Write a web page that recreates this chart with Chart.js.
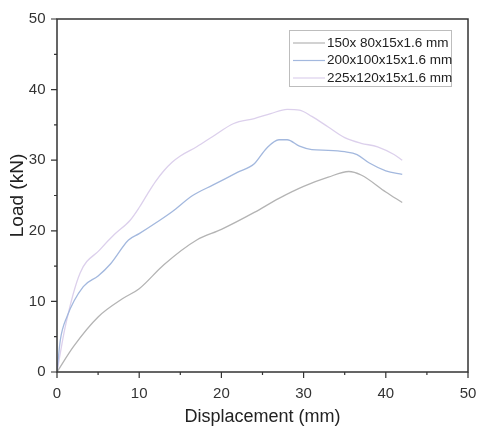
<!DOCTYPE html>
<html>
<head>
<meta charset="utf-8">
<script src="https://cdn.jsdelivr.net/npm/chart.js@4/dist/chart.umd.min.js"></script>
<style>
  body { margin: 0; background: #fff; }
  canvas { display: block; }
</style>
</head>
<body>
<canvas id="grafico" width="478" height="429"></canvas>
<script>
// ---- dados ----
const seriesLabels = ["150x 80x15x1.6 mm", "200x100x15x1.6 mm", "225x120x15x1.6 mm"];

const dispA = [0, 2, 5, 8, 10, 13, 17, 20, 24, 27, 30, 33, 35.5, 37, 40, 42];
const loadA = [0, 3.6, 7.8, 10.4, 11.8, 15.2, 18.7, 20.2, 22.6, 24.6, 26.3, 27.6, 28.4, 27.9, 25.5, 24.0];

const dispB = [0, 0.4, 1.2, 3.2, 5, 6.5, 8.7, 10, 12, 14, 16.5, 19, 22, 24, 25.5, 27, 28, 29.5, 31, 33, 35, 36.5, 38, 40, 42];
const loadB = [0, 4.5, 7.8, 12.1, 13.6, 15.3, 18.7, 19.6, 21.1, 22.7, 25.0, 26.5, 28.3, 29.5, 31.7, 32.9, 32.9, 32.0, 31.5, 31.4, 31.2, 30.8, 29.6, 28.5, 28.0];

const dispC = [0, 1, 2.8, 5.2, 7, 8.9, 10, 11, 12, 13, 14, 15, 17, 19, 21.5, 24, 26, 28, 29.5, 31, 33, 35, 37, 39, 41, 42];
const loadC = [0, 6.4, 14, 17.3, 19.5, 21.5, 23.3, 25.2, 27.0, 28.5, 29.7, 30.6, 31.9, 33.4, 35.2, 35.9, 36.6, 37.2, 37.1, 36.2, 34.7, 33.2, 32.4, 31.9, 30.8, 30.0];

const xTicks = [0, 10, 20, 30, 40, 50];
const yTicks = [0, 10, 20, 30, 40, 50];

const cores = ["#b4b4b4", "#a3b8de", "#dcd0ec"];

/* ============================
   MONTA PONTOS
============================ */

function pontos(xs, ys) {
    return xs.map((x, i) => ({ x: x, y: ys[i] }));
}

const fonte = "'Liberation Sans', Arial, sans-serif";

/* ============================
   MOLDURA + TICKS + LEGENDA
============================ */

const moldura = {
    id: "moldura",
    afterDraw(chart) {
        const { ctx, chartArea: a, scales } = chart;
        ctx.save();
        ctx.strokeStyle = "#333";
        ctx.lineWidth = 1.5;
        ctx.strokeRect(a.left, a.top, a.right - a.left, a.bottom - a.top);

        ctx.lineWidth = 1.2;
        ctx.beginPath();
        for (let v = 0; v <= 50; v += 5) {
            const len = v % 10 === 0 ? 6 : 3;
            const px = scales.x.getPixelForValue(v);
            ctx.moveTo(px, a.bottom);
            ctx.lineTo(px, a.bottom + len);
            const py = scales.y.getPixelForValue(v);
            ctx.moveTo(a.left, py);
            ctx.lineTo(a.left - len, py);
        }
        ctx.stroke();

        // legenda
        const lx = 289, ly = 30, lw = 162, lh = 56;
        ctx.fillStyle = "#fff";
        ctx.fillRect(lx, ly, lw, lh);
        ctx.strokeStyle = "#bdbdbd";
        ctx.lineWidth = 1;
        ctx.strokeRect(lx + 0.5, ly + 0.5, lw, lh);
        ctx.font = "13.5px " + fonte;
        ctx.textBaseline = "middle";
        ctx.fillStyle = "#222";
        chart.data.datasets.forEach((ds, i) => {
            const y = ly + 13 + i * 17.5;
            ctx.strokeStyle = ds.borderColor;
            ctx.lineWidth = 1.2;
            ctx.beginPath();
            ctx.moveTo(293, y);
            ctx.lineTo(325, y);
            ctx.stroke();
            ctx.fillText(ds.label, 327, y);
        });
        ctx.restore();
    }
};

/* ============================
   GRÁFICO
============================ */

const ctx = document.getElementById("grafico").getContext("2d");

new Chart(ctx, {
    type: "line",
    data: {
        datasets: [
            { label: seriesLabels[0], data: pontos(dispA, loadA), borderColor: cores[0] },
            { label: seriesLabels[1], data: pontos(dispB, loadB), borderColor: cores[1] },
            { label: seriesLabels[2], data: pontos(dispC, loadC), borderColor: cores[2] }
        ].map(ds => Object.assign(ds, {
            borderWidth: 1.3,
            pointRadius: 0,
            fill: false,
            cubicInterpolationMode: "monotone"
        }))
    },
    options: {
        responsive: false,
        animation: false,
        layout: { autoPadding: false, padding: { top: 19, right: 10, left: 0, bottom: 0 } },
        plugins: {
            legend: { display: false },
            tooltip: { enabled: false }
        },
        scales: {
            x: {
                type: "linear",
                min: 0,
                max: 50,
                afterFit: s => { s.height = 57; s.paddingLeft = 0; s.paddingRight = 0; },
                afterBuildTicks: s => { s.ticks = xTicks.map(v => ({ value: v })); },
                grid: { display: false, drawTicks: false },
                border: { display: false },
                ticks: { padding: 13, color: "#333", font: { family: fonte, size: 15 } },
                title: {
                    display: true,
                    text: "Displacement (mm)",
                    color: "#222",
                    font: { family: fonte, size: 18 },
                    padding: { top: 0, bottom: 1 }
                }
            },
            y: {
                min: 0,
                max: 50,
                afterFit: s => { s.width = 57; s.paddingTop = 0; s.paddingBottom = 0; },
                afterBuildTicks: s => { s.ticks = yTicks.map(v => ({ value: v })); },
                grid: { display: false, drawTicks: false },
                border: { display: false },
                ticks: { padding: 11.5, color: "#333", font: { family: fonte, size: 15 } },
                title: {
                    display: true,
                    text: "Load (kN)",
                    color: "#222",
                    font: { family: fonte, size: 19 },
                    padding: { top: 6, bottom: 0 }
                }
            }
        }
    },
    plugins: [moldura]
});
</script>
</body>
</html>
